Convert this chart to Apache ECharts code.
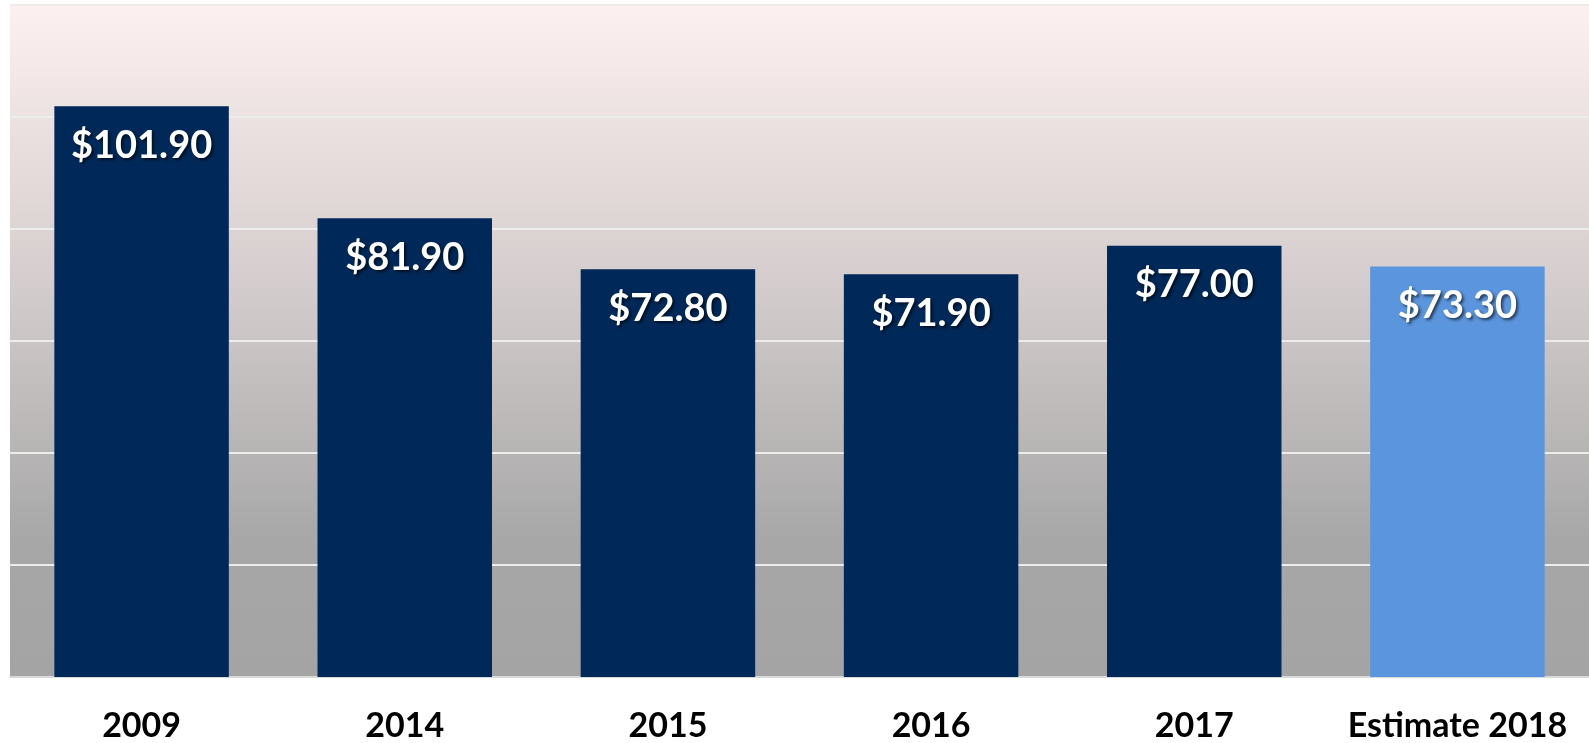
<!DOCTYPE html>
<html>
<head>
<meta charset="utf-8">
<style>
    html, body { margin: 0; padding: 0; background: #fff; }
    #priceChart { width: 1589px; height: 743px; }
</style>
<script src="https://cdn.jsdelivr.net/npm/echarts@6/dist/echarts.min.js"></script>
</head>
<body>
<div id="priceChart"></div>
<script>
    // categories and values
    var years = ['2009', '2014', '2015', '2016', '2017', 'Estimate 2018'];
    var prices = [101.9, 81.9, 72.8, 71.9, 77.0, 73.3];
    var estimateIndex = 5;

    var chart = echarts.init(document.getElementById('priceChart'));

    var barData = prices.map(function (v, i) {
        return {
            value: v,
            itemStyle: { color: i === estimateIndex ? '#5b95dd' : '#002858' }
        };
    });

    var option = {
        animation: false,
        grid: {
            left: 10,
            right: -8,
            top: 5,
            bottom: 65,
            show: true,
            borderWidth: 0,
            backgroundColor: new echarts.graphic.LinearGradient(0, 0, 0, 1, [
                { offset: 0, color: '#fdf0f0' },
                { offset: 0.4, color: '#d6cece' },
                { offset: 0.8, color: '#a7a7a7' },
                { offset: 1, color: '#a4a4a4' }
            ])
        },
        xAxis: {
            type: 'category',
            data: years,
            axisTick: { show: false },
            axisLine: { lineStyle: { color: '#d9d9d9', width: 2 } },
            axisLabel: {
                interval: 0,
                hideOverlap: false,
                margin: 32,
                color: '#000',
                fontFamily: 'Lato',
                fontWeight: 'bold',
                fontSize: 34
            }
        },
        yAxis: {
            type: 'value',
            min: 0,
            max: 120,
            interval: 20,
            axisLabel: { show: false },
            axisLine: { show: false },
            axisTick: { show: false },
            splitLine: { lineStyle: { color: '#ececec', width: 2 } }
        },
        series: [{
            type: 'bar',
            data: barData,
            barWidth: '66.3%',
            label: {
                show: true,
                position: 'insideTop',
                distance: 20,
                color: '#fff',
                fontFamily: 'Lato',
                fontWeight: 'bold',
                fontSize: 38,
                textShadowColor: 'rgba(0,0,0,0.6)',
                textShadowBlur: 3,
                textShadowOffsetX: 2,
                textShadowOffsetY: 2,
                formatter: function (p) { return '$' + p.value.toFixed(2); }
            }
        }]
    };

    chart.setOption(option);
</script>
</body>
</html>
